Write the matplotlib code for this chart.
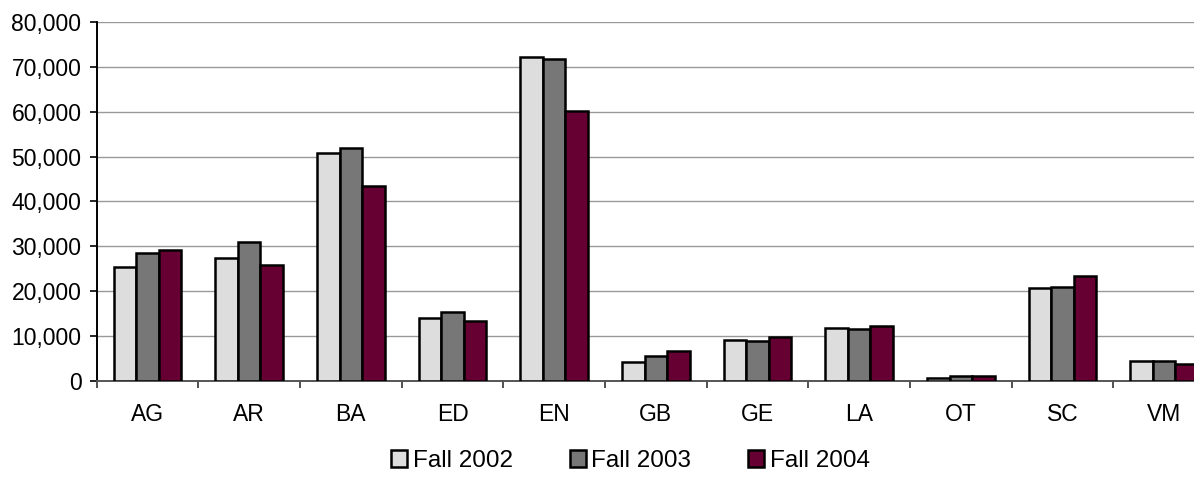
import matplotlib

matplotlib.use("Agg")
import matplotlib.pyplot as plt
import numpy as np
from matplotlib.ticker import FuncFormatter, FixedLocator

plt.rcParams["font.family"] = ["Liberation Sans", "DejaVu Sans"]

categories = ["AG", "AR", "BA", "ED", "EN", "GB", "GE", "LA", "OT", "SC", "VM"]
fall_2002 = [25470, 27400, 50740, 13970, 72270, 4300, 9200, 11810, 700, 20790, 4530]
fall_2003 = [28590, 30980, 52000, 15380, 71750, 5570, 8840, 11510, 1000, 21020, 4530]
fall_2004 = [29190, 25850, 43530, 13370, 60230, 6760, 9870, 12260, 1200, 23400, 3860]
series_labels = ["Fall 2002", "Fall 2003", "Fall 2004"]
colors = ["#DDDDDD", "#777777", "#660033"]

fig = plt.figure(figsize=(11.94, 4.87), dpi=100)
ax = fig.add_axes([0.081, 0.2177, 0.9366, 0.7371])

x = np.arange(len(categories))
w = 0.222
handles = []
for i, (vals, lab, col) in enumerate(zip([fall_2002, fall_2003, fall_2004], series_labels, colors)):
    b = ax.bar(x + (i - 1) * w, vals, width=w, color=col, edgecolor="black",
               linewidth=1.8, label=lab, zorder=3)
    handles.append(b)

ax.set_xlim(-0.5, len(categories) - 0.5)
ax.set_ylim(0, 80000)
ax.set_yticks(np.arange(0, 80001, 10000))
ax.yaxis.set_major_formatter(FuncFormatter(lambda v, p: f"{int(v):,}"))
ax.yaxis.grid(True, color="#999999", linewidth=1.0, zorder=0)

ax.set_xticks(x)
ax.set_xticklabels(categories)
ax.xaxis.set_minor_locator(FixedLocator(np.arange(-0.5, len(categories), 1.0)))
ax.tick_params(axis="x", which="major", length=0, pad=16, labelsize=16.5)
ax.tick_params(axis="x", which="minor", length=5, width=1.2, direction="out", color="#333333")
ax.tick_params(axis="y", length=5, width=1.2, direction="out", pad=6, labelsize=16.5)

for s in ["top", "right"]:
    ax.spines[s].set_visible(False)
ax.spines["left"].set_linewidth(1.4)
ax.spines["bottom"].set_color("#555555")
ax.spines["bottom"].set_linewidth(1.4)

fig.legend(handles=handles, labels=series_labels, loc="center",
           bbox_to_anchor=(0.528, 0.053), ncol=3, frameon=False, fontsize=17.5,
           handlelength=0.66, handleheight=0.66, handletextpad=0.22,
           columnspacing=2.35)

fig.savefig("out.png", dpi=100)
